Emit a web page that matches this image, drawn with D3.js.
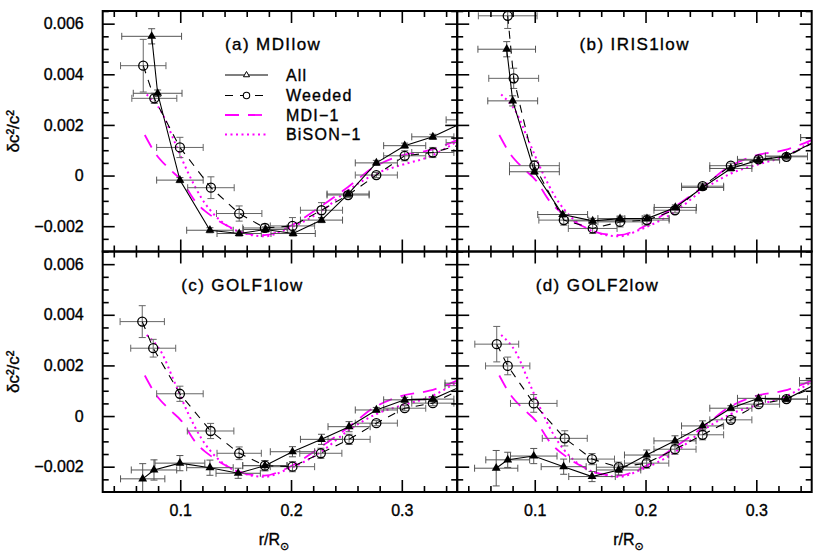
<!DOCTYPE html>
<html><head><meta charset="utf-8">
<script src="https://cdn.jsdelivr.net/npm/d3@7"></script>
<style>
html,body{margin:0;padding:0;background:#fff;}
text{font-family:"Liberation Sans",Arial,sans-serif;fill:#000;stroke:#000;stroke-width:0.35px;}
</style></head>
<body><svg id="chart" width="830" height="554"></svg>
<script>
// ---------- data (r/R, value, x-error, y-error) ----------
const xTicks = [0.1, 0.2, 0.3];
const yTicks = [-0.002, 0, 0.002, 0.004, 0.006];
const panelTitles = ["(a) MDIlow", "(b) IRIS1low", "(c) GOLF1low", "(d) GOLF2low"];
const legendLabels = ["All", "Weeded", "MDI\u22121", "BiSON\u22121"];

// reference inversions (same in every panel)
const mdi1 = [[0.068,0.0016],[0.0772,0.0009],[0.0892,0.0003],[0.1012,-0.0002],[0.1132,-0.001],[0.1283,-0.0016],
  [0.1433,-0.002],[0.1613,-0.0023],[0.176,-0.00235],[0.1944,-0.0021],[0.2275,-0.0012],[0.2515,-0.00045],
  [0.2756,0.00035],[0.3,0.0008],[0.325,0.001],[0.35,0.0014]];
const bison1 = [[0.0697,0.0032],[0.0832,0.0025],[0.0952,0.0013],[0.1072,0.0001],[0.1193,-0.0009],[0.1342,-0.0017],
  [0.1523,-0.0022],[0.1764,-0.0024],[0.1944,-0.00215],[0.2275,-0.0014],[0.2515,-0.00058],[0.277,0.00008],
  [0.3,0.00042],[0.325,0.00075],[0.35,0.00135]];

// (a) MDIlow
const aAll = [[0.0742,0.0055,0.027,0.0003],[0.0796,0.00325,0.022,0.00013],[0.0997,-0.00018,0.021,0.0001],
  [0.1268,-0.00216,0.021,0.0001],[0.1532,-0.00229,0.02,0.0001],[0.177,-0.00213,0.02,0.0001],[0.2019,-0.00229,0.02,0.0001],
  [0.2275,-0.00176,0.019,0.0001],[0.2515,-0.00073,0.019,0.0001],[0.277,0.0005,0.019,0.0001],[0.3026,0.00118,0.019,0.0001],
  [0.328,0.00153,0.019,0.0001],[0.36,0.0022,0.02,0.0001]];
const aWd = [[0.0666,0.00434,0.0205,0.00104],[0.0766,0.00305,0.0203,0.0002],[0.0997,0.00111,0.021,0.0004],
  [0.1277,-0.00048,0.021,0.00043],[0.1532,-0.0015,0.0205,0.0003],[0.1764,-0.00207,0.02,0.00015],[0.2013,-0.00199,0.02,0.00033],
  [0.2275,-0.00137,0.019,0.0003],[0.2515,-0.00077,0.019,0.0001],[0.277,0.00002,0.019,0.0001],[0.3026,0.00078,0.019,0.0002],
  [0.328,0.00091,0.019,0.0002],[0.36,0.0013,0.02,0.0001]];
// (b) IRIS1low
const bAll = [[0.0747,0.00499,0.026,0.0003],[0.0801,0.00295,0.0225,0.0002],[0.0997,0.00015,0.0225,0.0001],
  [0.1252,-0.00154,0.0225,0.0001],[0.1523,-0.00179,0.022,0.0001],[0.177,-0.0017,0.02,0.0001],[0.2013,-0.0017,0.02,0.0001],
  [0.2269,-0.00126,0.019,0.0001],[0.2515,-0.00047,0.019,0.0001],[0.277,0.00028,0.019,0.0001],[0.302,0.00061,0.019,0.0001],
  [0.3272,0.00077,0.019,0.0001],[0.36,0.0015,0.02,0.0001]];
const bWd = [[0.0756,0.00631,0.0265,0.0005],[0.081,0.00384,0.0225,0.0004],[0.0997,0.00039,0.0225,0.0002],
  [0.1262,-0.00176,0.0225,0.0002],[0.1523,-0.00209,0.022,0.0002],[0.177,-0.00183,0.02,0.0002],[0.2013,-0.00176,0.02,0.0002],
  [0.2266,-0.00137,0.019,0.0001],[0.2515,-0.00042,0.019,0.0001],[0.277,0.00039,0.019,0.0001],[0.302,0.00064,0.019,0.0001],
  [0.3272,0.00074,0.019,0.0001],[0.36,0.0015,0.02,0.0001]];
// (c) GOLF1low
const cAll = [[0.0661,-0.00248,0.02,0.0006],[0.0763,-0.00213,0.0205,0.0004],[0.0997,-0.00186,0.0225,0.0003],
  [0.1268,-0.00204,0.021,0.0003],[0.1523,-0.00226,0.02,0.0002],[0.1764,-0.00196,0.02,0.0002],[0.2013,-0.00141,0.02,0.0002],
  [0.2275,-0.00092,0.019,0.0002],[0.2524,-0.00042,0.019,0.0002],[0.277,0.00024,0.019,0.0001],[0.3026,0.00064,0.019,0.0001],
  [0.328,0.00067,0.019,0.0001],[0.36,0.0013,0.021,0.0001]];
const cWd = [[0.0657,0.00373,0.02,0.00063],[0.0756,0.00268,0.0203,0.00035],[0.0997,0.00088,0.021,0.0003],
  [0.1274,-0.00059,0.021,0.0003],[0.1532,-0.00147,0.02,0.00025],[0.1764,-0.00196,0.02,0.0002],[0.2013,-0.002,0.02,0.0002],
  [0.2269,-0.00147,0.019,0.0002],[0.2524,-0.00092,0.019,0.0002],[0.277,-0.00028,0.019,0.0001],[0.3026,0.00031,0.019,0.0001],
  [0.328,0.00051,0.019,0.0001],[0.36,0.0012,0.021,0.0001]];
// (d) GOLF2low
const dAll = [[0.0652,-0.00206,0.0195,0.0007],[0.0756,-0.00173,0.0198,0.0003],[0.0991,-0.00158,0.021,0.0003],
  [0.1261,-0.002,0.0203,0.0003],[0.1517,-0.00239,0.021,0.0002],[0.1757,-0.00213,0.02,0.0002],[0.201,-0.00154,0.02,0.0002],
  [0.2266,-0.00098,0.019,0.0002],[0.2515,-0.00039,0.019,0.0002],[0.277,0.00031,0.019,0.0001],[0.302,0.0007,0.019,0.0001],
  [0.3272,0.00067,0.019,0.0001],[0.36,0.0014,0.021,0.0001]];
const dWd = [[0.0657,0.00284,0.0198,0.0007],[0.0756,0.00198,0.02,0.00035],[0.0991,0.0005,0.021,0.00035],
  [0.1271,-0.00088,0.0203,0.0003],[0.1517,-0.0017,0.0203,0.00022],[0.1757,-0.00202,0.02,0.0002],[0.201,-0.00186,0.02,0.0002],
  [0.2266,-0.00131,0.019,0.0002],[0.2515,-0.00074,0.019,0.0002],[0.277,-0.00015,0.019,0.0001],[0.302,0.00047,0.019,0.0001],
  [0.3272,0.00067,0.019,0.0001],[0.36,0.0013,0.021,0.0001]];

const panelAll = [aAll, bAll, cAll, dAll];
const panelWd = [aWd, bWd, cWd, dWd];

// ---------- layout ----------
const svg = d3.select("#chart");
const W = 354.5, H = 240.5;
const lefts = [102.7, 457.2], tops = [11, 251.5];
const x = d3.scaleLinear().domain([0.03, 0.35]).range([0, W]);
const y = d3.scaleLinear().domain([-0.003, 0.0065]).range([H, 0]);
const xMinor = d3.range(0.04, 0.3401, 0.02).map(v => +v.toFixed(3)).filter(v => !xTicks.some(t => Math.abs(t - v) < 1e-6));
const yMinor = d3.range(-0.0025, 0.00651, 0.0005).map(v => +v.toFixed(5)).filter(v => !yTicks.some(t => Math.abs(t - v) < 1e-7));
const fmtY = v => v === 0 ? "0" : (v < 0 ? "\u2212" : "") + Math.abs(v).toFixed(3);
const fmtX = v => v.toFixed(1);
const MAJ = 12, MIN = 6;
const magenta = "#ff00ff";

const lineGen = d3.line().x(d => x(d[0])).y(d => y(d[1]));
const curveGen = d3.line().x(d => x(d[0])).y(d => y(d[1])).curve(d3.curveMonotoneX);

for (let p = 0; p < 4; p++) {
  const col = p % 2, row = Math.floor(p / 2);
  const g = svg.append("g").attr("transform", `translate(${lefts[col]},${tops[row]})`);
  const cid = "clip" + p;
  g.append("clipPath").attr("id", cid).append("rect").attr("width", W).attr("height", H);
  const plot = g.append("g").attr("clip-path", `url(#${cid})`);

  // reference curves
  plot.append("path").datum(mdi1).attr("d", curveGen).attr("fill", "none")
    .attr("stroke", magenta).attr("stroke-width", 1.8).attr("stroke-dasharray", "14,9");
  plot.append("path").datum(bison1).attr("d", curveGen).attr("fill", "none")
    .attr("stroke", magenta).attr("stroke-width", 2).attr("stroke-dasharray", "2,3.5");

  // error bars
  const drawErr = (data, color) => {
    const eg = plot.append("g").attr("stroke", color).attr("stroke-width", 1).attr("fill", "none");
    data.forEach(d => {
      const cx = x(d[0]), cy = y(d[1]);
      const xl = x(d[0] - d[2]), xr = x(d[0] + d[2]);
      const yt = y(d[1] + d[3]), yb = y(d[1] - d[3]);
      eg.append("line").attr("x1", xl).attr("x2", xr).attr("y1", cy).attr("y2", cy);
      eg.append("line").attr("x1", xl).attr("x2", xl).attr("y1", cy - 3.5).attr("y2", cy + 3.5);
      eg.append("line").attr("x1", xr).attr("x2", xr).attr("y1", cy - 3.5).attr("y2", cy + 3.5);
      eg.append("line").attr("x1", cx).attr("x2", cx).attr("y1", yt).attr("y2", yb);
      eg.append("line").attr("x1", cx - 3.5).attr("x2", cx + 3.5).attr("y1", yt).attr("y2", yt);
      eg.append("line").attr("x1", cx - 3.5).attr("x2", cx + 3.5).attr("y1", yb).attr("y2", yb);
    });
  };
  drawErr(panelWd[p], "#666");
  drawErr(panelAll[p], "#555");

  // data lines
  plot.append("path").datum(panelWd[p]).attr("d", lineGen).attr("fill", "none")
    .attr("stroke", "#000").attr("stroke-width", 1.1).attr("stroke-dasharray", "8,7");
  plot.append("path").datum(panelAll[p]).attr("d", lineGen).attr("fill", "none")
    .attr("stroke", "#000").attr("stroke-width", 1.1);

  // markers
  plot.selectAll("circle.wd").data(panelWd[p]).join("circle").attr("class", "wd")
    .attr("cx", d => x(d[0])).attr("cy", d => y(d[1])).attr("r", 4.5)
    .attr("fill", "none").attr("stroke", "#000").attr("stroke-width", 1.3);
  plot.selectAll("path.all").data(panelAll[p]).join("path").attr("class", "all")
    .attr("transform", d => `translate(${x(d[0])},${y(d[1])})`)
    .attr("d", d3.symbol(d3.symbolTriangle, 34)).attr("fill", "#000");

  // axes (ticks inward on all four sides)
  const addAxis = (axisFn, scale, vals, size, tf, transform, pad) => {
    const a = axisFn(scale).tickValues(vals).tickSize(-size).tickPadding(pad).tickFormat(tf);
    const ag = g.append("g").attr("transform", transform).call(a);
    ag.select(".domain").remove();
    ag.selectAll("line").attr("stroke", "#000").attr("stroke-width", 1.6);
    ag.selectAll("text").style("font-size", "16px").attr("font-family", "Liberation Sans, Arial, sans-serif");
    return ag;
  };
  const none = () => "";
  addAxis(d3.axisBottom, x, xTicks, MAJ, row === 1 ? fmtX : none, `translate(0,${H})`, 13);
  addAxis(d3.axisBottom, x, xMinor, MIN, none, `translate(0,${H})`, 3);
  addAxis(d3.axisTop, x, xTicks, MAJ, none, `translate(0,0)`, 3);
  addAxis(d3.axisTop, x, xMinor, MIN, none, `translate(0,0)`, 3);
  addAxis(d3.axisLeft, y, yTicks, MAJ, col === 0 ? fmtY : none, `translate(0,0)`, 19);
  addAxis(d3.axisLeft, y, yMinor, MIN, none, `translate(0,0)`, 3);
  addAxis(d3.axisRight, y, yTicks, MAJ, none, `translate(${W},0)`, 3);
  addAxis(d3.axisRight, y, yMinor, MIN, none, `translate(${W},0)`, 3);

  g.append("rect").attr("width", W).attr("height", H).attr("fill", "none")
    .attr("stroke", "#000").attr("stroke-width", 2);

  // panel title
  g.append("text").attr("x", row === 0 ? 122.3 : 78.5).attr("y", 39)
    .style("font-size", "17px").style("letter-spacing", "1.4px").text(panelTitles[p]);

  // axis titles
  if (col === 0) {
    g.append("text").attr("transform", `translate(${-84},${H / 2}) rotate(-90)`)
      .attr("text-anchor", "middle").style("font-size", "17px").text("\u03b4c\u00b2/c\u00b2");
  }
  if (row === 1) {
    const t = g.append("text").attr("x", W / 2 - 6).attr("y", H + 53).attr("text-anchor", "middle")
      .style("font-size", "16px");
    t.append("tspan").text("r/R");
    t.append("tspan").attr("dy", 5).style("font-size", "11px").style("font-family", "DejaVu Sans").text("\u2299");
  }

  // legend (panel a)
  if (p === 0) {
    const lx0 = 122.3, lx1 = 165.3, tx = 183.3, rows = [64, 84.5, 104, 123.5];
    const lg = g.append("g");
    const styles = [
      {stroke: "#000", dash: null, w: 1.1},
      {stroke: "#000", dash: "8,7", w: 1.1},
      {stroke: magenta, dash: "14,9", w: 1.8},
      {stroke: magenta, dash: "2,3.5", w: 2}
    ];
    legendLabels.forEach((lab, i) => {
      lg.append("line").attr("x1", lx0).attr("x2", lx1).attr("y1", rows[i]).attr("y2", rows[i])
        .attr("stroke", styles[i].stroke).attr("stroke-width", styles[i].w)
        .attr("stroke-dasharray", styles[i].dash);
      lg.append("text").attr("x", tx).attr("y", rows[i]).attr("dy", "0.35em")
        .style("font-size", "16px").style("letter-spacing", "1.2px").text(lab);
    });
    const mid = (lx0 + lx1) / 2;
    lg.append("path").attr("transform", `translate(${mid},${rows[0]})`)
      .attr("d", d3.symbol(d3.symbolTriangle, 16)).attr("fill", "#fff").attr("stroke", "#000").attr("stroke-width", 1);
    lg.append("circle").attr("cx", mid).attr("cy", rows[1]).attr("r", 3.2)
      .attr("fill", "#fff").attr("stroke", "#000").attr("stroke-width", 1.1);
  }
}
</script></body></html>
